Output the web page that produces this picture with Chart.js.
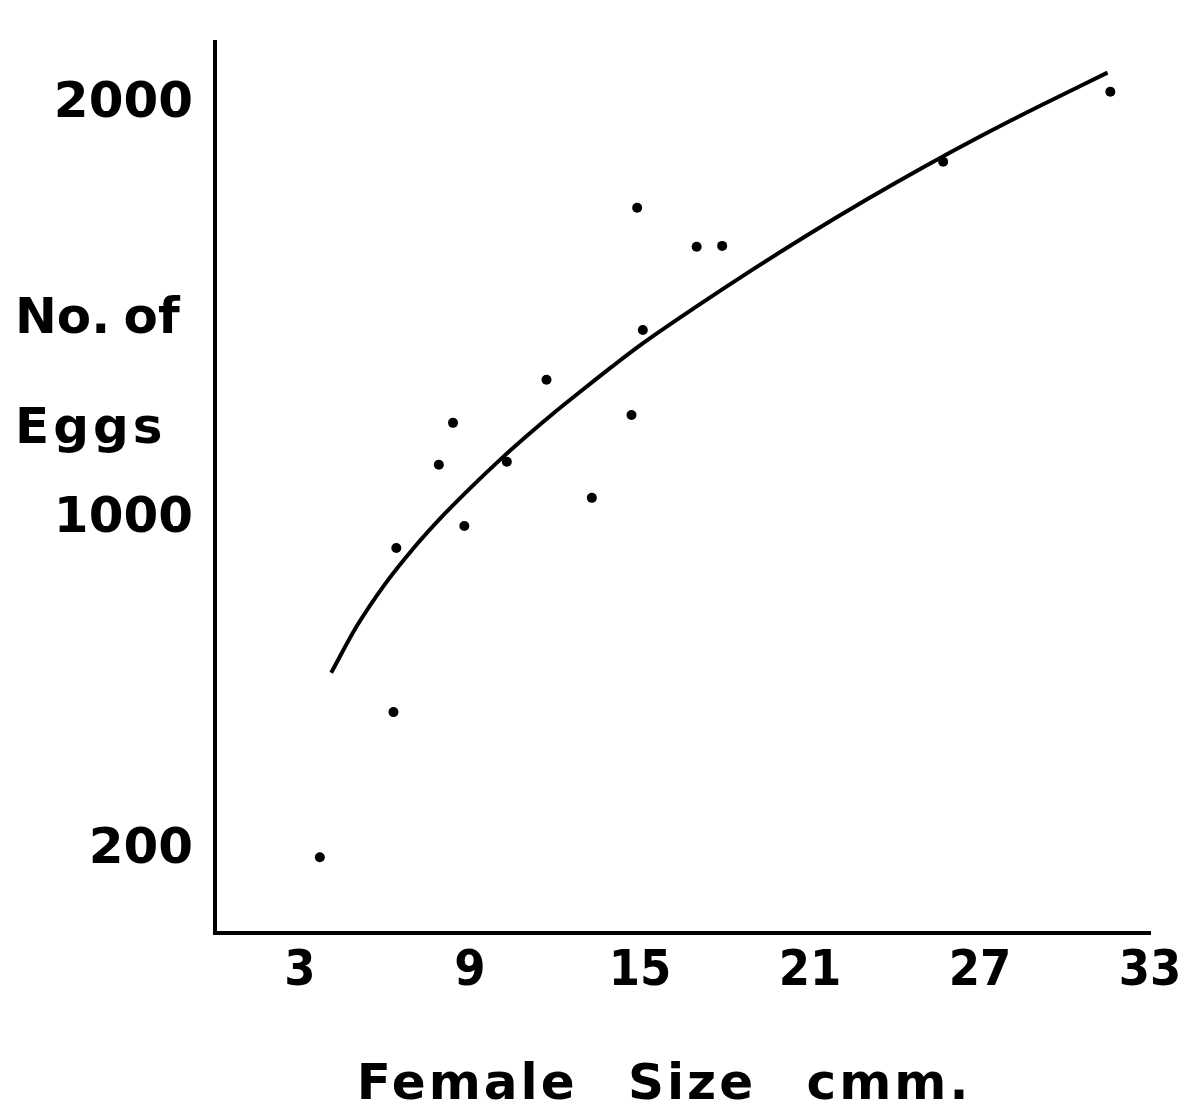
<!DOCTYPE html>
<html>
<head>
<meta charset="utf-8">
<script src="https://cdn.jsdelivr.net/npm/chart.js@4.4.1/dist/chart.umd.min.js"></script>
<style>
    html, body { margin: 0; padding: 0; background: #fff; }
    canvas { display: block; }
</style>
</head>
<body>
<canvas id="grafica" width="1181" height="1107"></canvas>
<script>
// puntos: talla de la hembra (cmm) y numero de huevos
const tallas = [3.7, 6.3, 6.4, 7.9, 8.4, 8.8, 10.3, 11.7, 13.3, 14.7, 14.9, 15.1, 17.0, 17.9, 25.7, 31.6]
const huevos = [183, 533, 929, 1130, 1231, 982, 1137, 1335, 1050, 1250, 1750, 1455, 1656, 1658, 1861, 2030]

// curva ajustada, leida a ojo sobre la figura
const curvaX = [4.1, 5, 6, 7, 8, 9, 10, 11, 12, 13, 14, 15, 17, 19, 21, 23, 25, 27, 29, 31.5]
const curvaY = [628, 740, 842, 928, 1004, 1073, 1138, 1199, 1257, 1312, 1366, 1418, 1512, 1602, 1688, 1770, 1848, 1922, 1992, 2076]

const ticksX = [3, 9, 15, 21, 27, 33]
const ticksY = [200, 1000, 2000]

const fuenteTitulos = 'bold 50px "DejaVu Sans", sans-serif'

// titulos de los ejes en horizontal, como en el original
const titulosEjes = {
    id: 'titulosEjes',
    afterDraw(chart) {
        const ctx = chart.ctx
        ctx.save()
        ctx.fillStyle = '#000'
        ctx.font = fuenteTitulos
        ctx.textBaseline = 'alphabetic'
        ctx.textAlign = 'left'
        ctx.letterSpacing = '0px'
        ctx.wordSpacing = '-4px'
        ctx.fillText('No. of', 15, 333)
        ctx.letterSpacing = '4px'
        ctx.wordSpacing = '0px'
        ctx.fillText('Eggs', 15, 443)
        ctx.textAlign = 'center'
        ctx.letterSpacing = '3px'
        ctx.wordSpacing = '30px'
        ctx.fillText('Female Size cmm.', 664, 1099)
        ctx.restore()
    }
}

function printChart() {

    const data = {
        datasets: [{
            data: curvaX.map((x, i) => ({ x: x, y: curvaY[i] })),
            showLine: true,
            borderColor: '#000',
            borderWidth: 4,
            pointRadius: 0,
            cubicInterpolationMode: 'monotone'
        }, {
            data: tallas.map((x, i) => ({ x: x, y: huevos[i] })),
            showLine: false,
            backgroundColor: '#000',
            borderColor: '#000',
            pointRadius: 5,
            pointBorderWidth: 0
        }]
    }

    const options = {
        responsive: false,
        animation: false,
        layout: {
            padding: { top: 42, right: 31, left: 0, bottom: 0 }
        },
        plugins: {
            legend: { display: false },
            tooltip: { enabled: false }
        },
        scales: {
            x: {
                type: 'linear',
                min: 0,
                max: 33,
                grid: { display: false, drawTicks: false },
                border: { display: true, color: '#000', width: 4 },
                afterBuildTicks: scale => { scale.ticks = ticksX.map(v => ({ value: v })) },
                afterFit: scale => {
                    scale.height = 174
                    scale.paddingLeft = 0
                    scale.paddingRight = 0
                },
                ticks: {
                    color: '#000',
                    padding: 9,
                    maxRotation: 0,
                    font: { family: '"Liberation Sans Narrow", "DejaVu Sans Condensed", sans-serif', size: 50, weight: 'bold' }
                }
            },
            y: {
                type: 'linear',
                min: 0,
                max: 2150,
                grid: { display: false, drawTicks: false },
                border: { display: true, color: '#000', width: 4 },
                afterBuildTicks: scale => { scale.ticks = ticksY.map(v => ({ value: v })) },
                afterFit: scale => {
                    scale.width = 215
                    scale.paddingTop = 0
                    scale.paddingBottom = 0
                },
                ticks: {
                    color: '#000',
                    padding: 22,
                    callback: v => String(v),
                    font: { family: '"DejaVu Sans", sans-serif', size: 50, weight: 'bold' }
                }
            }
        }
    }

    new Chart('grafica', { type: 'scatter', data, options, plugins: [titulosEjes] })
}

printChart()
</script>
</body>
</html>
